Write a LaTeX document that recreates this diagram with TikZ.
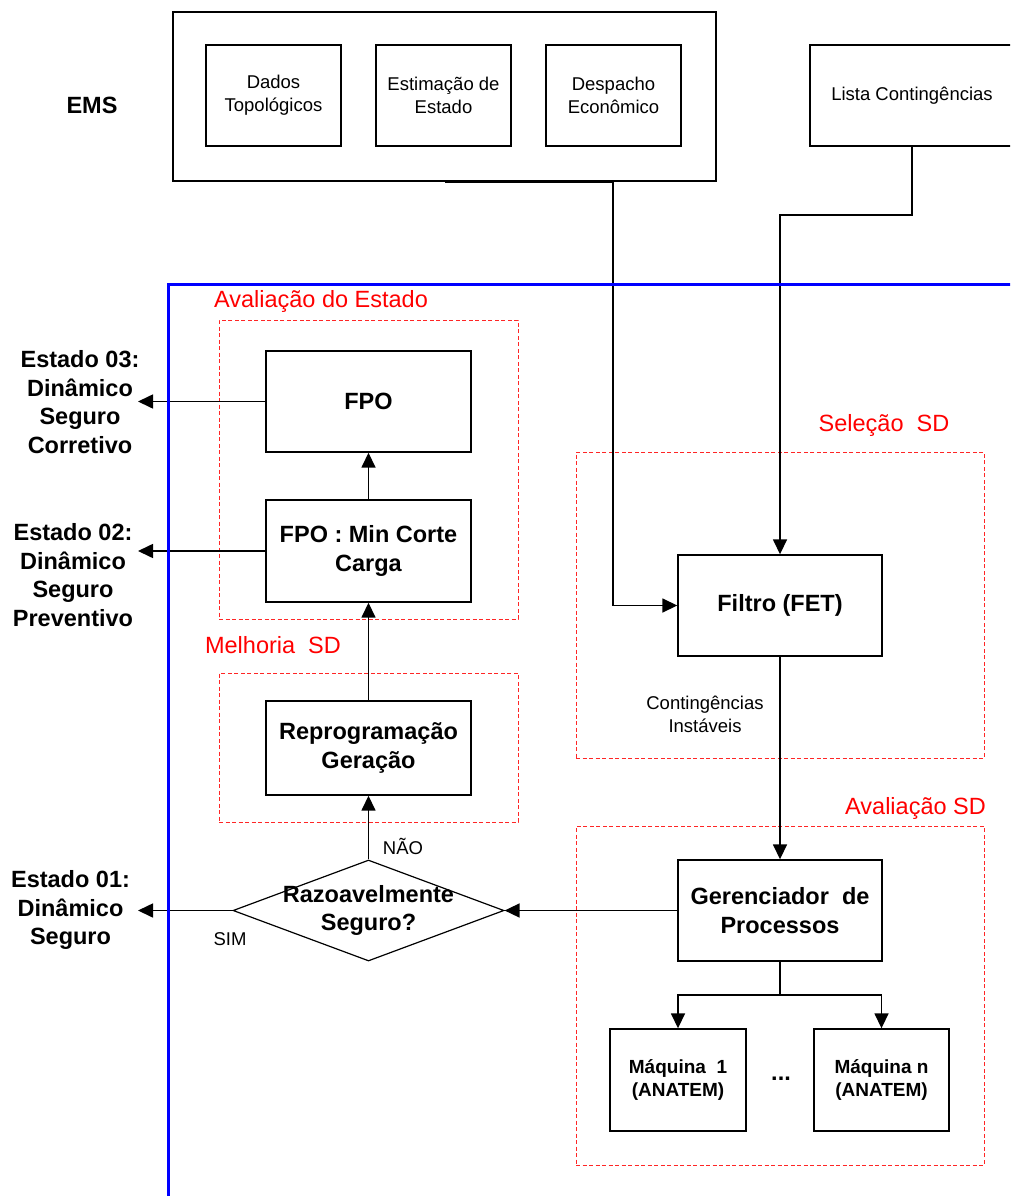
\documentclass[tikz,border=0pt]{standalone}
\usepackage{fontspec}
\setmainfont{Liberation Sans}
\usetikzlibrary{arrows.meta,shapes.geometric,calc}
\begin{document}
\begin{tikzpicture}[x=1pt,y=-1pt,
  box/.style={draw,line width=1.4pt,rectangle,inner sep=0pt,align=center},
  small/.style={font=\fontsize{18.5}{23}\selectfont},
  big/.style={font=\fontsize{23.5}{28.5}\selectfont\bfseries},
  mid/.style={font=\fontsize{19}{23.5}\selectfont\bfseries},
  grp/.style={draw=red!85, dash pattern=on 4pt off 2.5pt, line width=1pt, rectangle, inner sep=0pt},
  grplabel/.style={text=red, font=\fontsize{23.5}{28}\selectfont, inner sep=0pt},
  txt/.style={inner sep=0pt, align=center},
  arr/.style={line width=1.6pt, -{Triangle[length=15pt,width=14pt]}},
  conn/.style={line width=1.6pt},
]
\clip (0,0) rectangle (1010,1196);
\fill[white] (0,0) rectangle (1010,1196);

% EMS block
\node[txt,big] (emslabel) at (92,105) {EMS};
\node[box,minimum width=543pt,minimum height=169pt] (ems) at (444.5,96.5) {};
\node[box,small,minimum width=135pt,minimum height=101pt] (dados) at (273.5,95.5) {Dados\\Topológicos};
\node[box,small,minimum width=135pt,minimum height=101pt] (estim) at (443.5,95.5) {Estimação de\\Estado};
\node[box,small,minimum width=135pt,minimum height=101pt] (desp) at (613.5,95.5) {Despacho\\Econômico};
\node[box,small,minimum width=204pt,minimum height=101pt] (lista) at (912,95.5) {Lista Contingências};

% red dashed groups
\node[grp,minimum width=299pt,minimum height=299pt] (grp1) at (368.5,469.5) {};
\node[grp,minimum width=299pt,minimum height=149pt] (grp2) at (368.5,747.5) {};
\node[grp,minimum width=408pt,minimum height=306pt] (grp3) at (780,605) {};
\node[grp,minimum width=408pt,minimum height=339pt] (grp4) at (780,995.5) {};
\node[grplabel] (g1l) at (321,301) {Avaliação do Estado};
\node[grplabel] (g2l) at (273,645) {Melhoria\ \ SD};
\node[grplabel] (g3l) at (884,425) {Seleção\ \ SD};
\node[grplabel] (g4l) at (915.5,808) {Avaliação SD};

% left column boxes
\node[box,big,minimum width=205pt,minimum height=101pt] (fpo) at (368.5,401.5) {FPO};
\node[box,big,minimum width=205pt,minimum height=102pt] (minc) at (368.5,551) {FPO : Min Corte\\Carga};
\node[box,big,minimum width=205pt,minimum height=94pt] (reprog) at (368.5,748) {Reprogramação\\Geração};
\node[draw,diamond,line width=1.2pt,minimum width=271pt,minimum height=101pt,inner sep=0pt] (dec) at (368.5,910.5) {};
\node[txt,big] (dectext) at (dec.center) {Razoavelmente\\Seguro?};

% outputs
\node[txt,big] (e03) at (80,402) {Estado 03:\\Dinâmico\\Seguro\\Corretivo};
\node[txt,big] (e02) at (73,575) {Estado 02:\\Dinâmico\\Seguro\\Preventivo};
\node[txt,big] (e01) at (70.5,910) {Estado 01:\\Dinâmico\\Seguro};
\coordinate (outx) at (138,0);

% right column
\node[box,big,minimum width=204pt,minimum height=101pt] (filtro) at (780,605.5) {Filtro (FET)};
\node[txt,small] (instav) at (705,714) {Contingências\\Instáveis};
\node[box,big,minimum width=204pt,minimum height=101pt] (ger) at (780,910.5) {Gerenciador\ \ de\\Processos};
\node[box,mid,minimum width=136pt,minimum height=102pt] (maq1) at (678,1080) {Máquina\ \ 1\\(ANATEM)};
\node[box,mid,minimum width=135pt,minimum height=102pt] (maqn) at (881.5,1080) {Máquina n\\(ANATEM)};
\node[txt,big] (dots) at (781,1079) {...};

% connectors
\coordinate (c1) at (613,0);
\coordinate (c2) at (780,215);
\coordinate (br) at (780,995);
\draw[arr] (ems.south) -| (c1 |- filtro.west) -- (filtro.west);
\draw[arr] (lista.south) |- (c2) -- (filtro.north);
\draw[arr] (filtro.south) -- (ger.north);
\draw[conn] (ger.south) -- (br);
\draw[arr] (br) -| (maq1.north);
\draw[arr] (br) -| (maqn.north);
\draw[arr] (ger.west) -- (dec.east);
\draw[arr] (dec.north) -- (reprog.south);
\node[txt,small] (nao) at (403,846) {NÃO};
\draw[arr] (reprog.north) -- (minc.south);
\draw[arr] (minc.north) -- (fpo.south);
\draw[arr] (fpo.west) -- (fpo.west -| outx);
\draw[arr] (minc.west) -- (minc.west -| outx);
\draw[arr] (dec.west) -- (dec.west -| outx);
\node[txt,small] (sim) at (230,939) {SIM};

% blue boundary
\draw[blue,line width=3pt] (168,1200) -- (168,284) -- (1015,284);
\end{tikzpicture}
\end{document}
